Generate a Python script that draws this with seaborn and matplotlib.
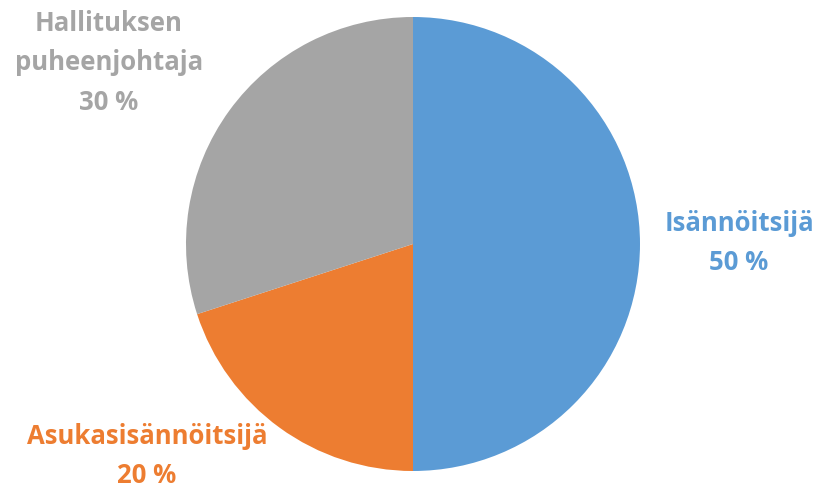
import matplotlib.pyplot as plt
import seaborn as sns

# data
labels = ['Isännöitsijä', 'Asukasisännöitsijä', 'Hallituksen\npuheenjohtaja']
shares = [50, 20, 30]
colors = ['#5B9BD5', '#ED7D31', '#A5A5A5']

sns.set_theme(style="white")
plt.rcParams['font.family'] = ['Open Sans', 'DejaVu Sans']

fig = plt.figure(figsize=(8.19, 4.88), dpi=100)
ax = fig.add_axes([0, 0, 1, 1])

# pie drawn in pixel-like data coords
wedges, _ = ax.pie(shares, colors=colors, startangle=90, counterclock=False,
                   center=(413, 244), radius=227, frame=True,
                   wedgeprops={'linewidth': 0})
ax.set_xlim(0, 819)
ax.set_ylim(0, 488)
ax.set_aspect('equal')
ax.axis('off')

# label positions (y from bottom)
label_pos = [(739, 245), (147, 32), (109, 425)]
for lab, val, col, pos in zip(labels, shares, colors, label_pos):
    ax.text(pos[0], pos[1], f'{lab}\n{val} %', color=col, fontsize=18.5,
            fontweight='bold', ha='center', va='center', linespacing=1.6)

plt.savefig('out.png', dpi=100)
